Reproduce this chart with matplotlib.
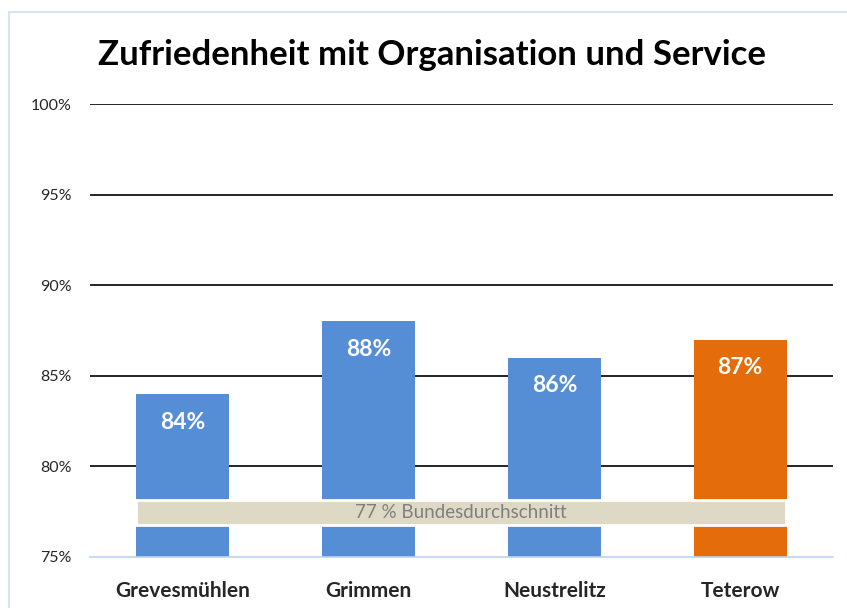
import matplotlib
matplotlib.use("Agg")
import matplotlib.pyplot as plt
from matplotlib.patches import Rectangle

categories = ["Grevesmühlen", "Grimmen", "Neustrelitz", "Teterow"]
values = [84, 88, 86, 87]
bar_colors = ["#558ED5", "#558ED5", "#558ED5", "#E46C0A"]
yticks = [75, 80, 85, 90, 95, 100]
ytick_labels = ["75%", "80%", "85%", "90%", "95%", "100%"]
average = 77
average_label = "77 % Bundesdurchschnitt"
title = "Zufriedenheit mit Organisation und Service"

plt.rcParams["font.family"] = ["Lato", "DejaVu Sans"]

W, H = 847, 608
fig = plt.figure(figsize=(W / 100, H / 100), dpi=100)
fig.patch.set_facecolor("white")

# chart frame
fig.patches.append(Rectangle((9 / W, -0.1), 1.2, 1 - 12 / H + 0.1, transform=fig.transFigure,
                             facecolor="none", edgecolor="#D6E3F3", linewidth=1.5))

ax = fig.add_axes([90 / W, 1 - 557 / H, (833 - 90) / W, (557 - 104) / H])
ax.set_xlim(-0.5, 3.5)
ax.set_ylim(75, 100)

for y in yticks[1:]:
    ax.axhline(y, color="black", linewidth=1.2, zorder=1)

x = list(range(len(categories)))
ax.bar(x, [v - 75 for v in values], bottom=75, width=0.5, color=bar_colors, zorder=2)
for xi, v in zip(x, values):
    ax.text(xi, v - 1.55, f"{v}%", ha="center", va="center", color="white",
            fontsize=16.5, fontweight="bold", zorder=3)

# average band
ax.add_patch(Rectangle((-0.255, 76.75), 3.5, 1.4, facecolor="#DDD9C4", edgecolor="white",
                       linewidth=2, zorder=4))
ax.text(1.495, 77.45, average_label, ha="center", va="center", color="#7F7F7F",
        fontsize=13.5, zorder=5)

for s in ["top", "right", "left"]:
    ax.spines[s].set_visible(False)
ax.spines["bottom"].set_color("#BDD3EE")
ax.spines["bottom"].set_linewidth(1.2)

ax.set_yticks(yticks)
ax.set_yticklabels(ytick_labels, fontsize=11.5, color="#262626")
ax.tick_params(axis="y", length=0, pad=13)
ax.set_xticks(x)
ax.set_xticklabels(categories, fontsize=15, fontweight="bold", color="#262626")
ax.tick_params(axis="x", length=0, pad=17)

fig.text(432 / W, 1 - 55 / H, title, ha="center", va="center", fontsize=25,
         fontweight="bold", color="black")

fig.savefig("out.png", dpi=100)
